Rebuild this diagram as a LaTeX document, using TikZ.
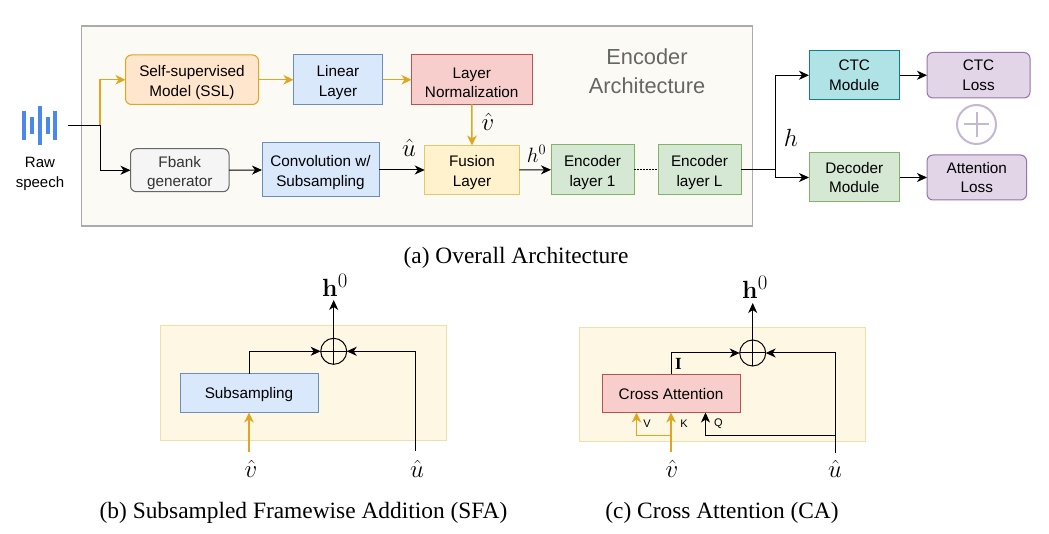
\documentclass[tikz,border=0pt]{standalone}
\usepackage[no-math]{fontspec}
\setmainfont{Liberation Sans}
\newfontfamily\capfont{Liberation Serif}
\usetikzlibrary{arrows.meta,calc}
\definecolor{gold}{HTML}{E0A620}
\def\bxh{36pt}
\tikzset{
  x=1pt,y=-1pt,
  every node/.style={inner sep=0pt,outer sep=0pt},
  bx/.style={draw,line width=1pt,align=center,font=\fontsize{15.3}{19.5}\selectfont,text=black,execute at begin node={\rule{0pt}{\bxh}}},
  single/.style={/utils/exec={\def\bxh{13.5pt}}},
  nolift/.style={/utils/exec={\def\bxh{0pt}}},
  bluebox/.style={bx,fill=bluef,draw=blues},
  orangebox/.style={bx,fill=orangef,draw=gold,rounded corners=6pt},
  redbox/.style={bx,fill=redf,draw=reds},
  yellowbox/.style={bx,fill=yellowf,draw=yellows},
  greenbox/.style={bx,fill=greenf,draw=greens},
  purplebox/.style={bx,fill=purplef,draw=purples,rounded corners=6pt},
  tealbox/.style={bx,fill=tealf,draw=teals},
  greybox/.style={bx,fill=greyf,draw=greys,rounded corners=6pt,text=greyt},
  panel/.style={draw=panels,fill=panelf,line width=1pt,minimum width=286pt,minimum height=114.5pt},
  conn/.style={draw=black,line width=1pt,-{Stealth[length=10pt,width=9pt,inset=3pt]}},
  goldconn/.style={draw=gold,line width=1.5pt,-{Stealth[length=10pt,width=9.5pt,inset=3pt,fill=gold]}},
  plain/.style={draw=black,line width=1pt},
  sumc/.style={circle,draw=black,line width=1pt,minimum size=26pt},
  mathlbl/.style={font=\fontsize{24.88}{28}\selectfont},
  mathsm/.style={font=\fontsize{20.74}{24}\selectfont},
  caplbl/.style={font=\capfont\fontsize{23.4}{26}\selectfont},
  smalllbl/.style={font=\fontsize{11}{12}\selectfont},
}
\definecolor{bluef}{HTML}{DAE8FC}\definecolor{blues}{HTML}{6C8EBF}
\definecolor{orangef}{HTML}{FFE6CC}
\definecolor{redf}{HTML}{F8CECC}\definecolor{reds}{HTML}{B85450}
\definecolor{yellowf}{HTML}{FFF2CC}\definecolor{yellows}{HTML}{E3C768}
\definecolor{greenf}{HTML}{D5E8D4}\definecolor{greens}{HTML}{82B366}
\definecolor{purplef}{HTML}{E1D5E7}\definecolor{purples}{HTML}{9673A6}
\definecolor{tealf}{HTML}{B0E3E6}\definecolor{teals}{HTML}{0E8088}
\definecolor{greyf}{HTML}{F5F5F5}\definecolor{greys}{HTML}{666666}\definecolor{greyt}{HTML}{333333}
\definecolor{panelf}{HTML}{FEF7E4}\definecolor{panels}{HTML}{F0DFA8}
\definecolor{outerf}{HTML}{FBFAF5}\definecolor{outers}{HTML}{ABABAB}
\definecolor{wave}{HTML}{4A88EE}\definecolor{plusc}{HTML}{C4B7D0}
\begin{document}
\begin{tikzpicture}
\useasboundingbox (0,0) rectangle (1049,534);
% outer frame
\node[draw=outers,fill=outerf,line width=1.2pt,minimum width=671pt,minimum height=200pt] (outer) at (417,126) {};
\node[font=\fontsize{21.8}{29}\selectfont,text=black!60,align=center] (enctitle) at (647,71) {Encoder\\Architecture};
% waveform
\foreach \xx/\yt/\yb in {24/111.5/140,32/117.5/134,40/106.5/145.5,47.7/117.5/134,55.4/111.5/140}
  \fill[wave] (\xx-2,\yt) rectangle (\xx+2,\yb);
\node[align=center,font=\fontsize{15}{20}\selectfont] (raw) at (40,174) {Raw\\speech};
\coordinate (rawout) at (68,126);
\coordinate (split) at (100,126);
% boxes
\node[orangebox,minimum width=133pt,minimum height=49.5pt] (ssl) at (192,79.75) {Self-supervised\\Model (SSL)};
\node[bluebox,minimum width=89pt,minimum height=49.5pt] (lin) at (338,79.75) {Linear\\Layer};
\node[redbox,minimum width=120.5pt,minimum height=49.5pt] (norm) at (471.75,79.75) {Layer\\Normalization};
\node[greybox,minimum width=98.5pt,minimum height=43pt] (fbank) at (179.75,170.25) {Fbank\\generator};
\node[bluebox,minimum width=117pt,minimum height=54pt] (conv) at (320.5,170) {Convolution w/\\Subsampling};
\node[yellowbox,minimum width=94.5pt,minimum height=49pt] (fusion) at (472,170) {Fusion\\Layer};
\node[greenbox,minimum width=83pt,minimum height=49.5pt] (enc1) at (592.5,169.75) {Encoder\\layer 1};
\node[greenbox,minimum width=83pt,minimum height=49.5pt] (encl) at (699.5,169.75) {Encoder\\layer L};
\node[tealbox,nolift,minimum width=90.5pt,minimum height=49.5pt] (ctc) at (854.25,75.25) {CTC\\Module};
\node[greenbox,nolift,minimum width=90.5pt,minimum height=49pt] (dec) at (854.25,177.5) {Decoder\\Module};
\node[purplebox,nolift,minimum width=103pt,minimum height=45.5pt] (ctcl) at (978.5,75.25) {CTC\\Loss};
\node[purplebox,nolift,minimum width=99.5pt,minimum height=45pt] (attl) at (976.75,177.5) {Attention\\Loss};
\node[circle,draw=plusc,line width=2pt,minimum size=39pt] (plus) at (976.5,124.5) {};
\draw[plusc,line width=2pt] ($(plus.north)+(0,7)$) -- ($(plus.south)+(0,-7)$);
\draw[plusc,line width=2pt] ($(plus.west)+(7,0)$) -- ($(plus.east)+(-7,0)$);
% connectors
\draw[goldconn] (split) |- (ssl.west);
\draw[goldconn] (ssl.east) -- (lin.west);
\draw[goldconn] (lin.east) -- (norm.west);
\draw[goldconn] (norm.south) -- (fusion.north);
\draw[conn] (rawout) -- (split) |- (fbank.west);
\draw[conn] (fbank.east) -- (conv.west);
\draw[conn] (conv.east) -- (fusion.west);
\draw[conn] (fusion.east) -- (enc1.west);
\draw[plain,line width=0.8pt,dash pattern=on 2pt off 1pt] (enc1.east) -- (encl.west);
\coordinate (hsplit) at (775,169.75);
\draw[plain] (encl.east) -- (hsplit);
\draw[conn] (hsplit) |- (ctc.west);
\draw[conn] (hsplit) |- (dec.west);
\draw[conn] (ctc.east) -- (ctcl.west);
\draw[conn] (dec.east) -- (attl.west);
% labels
\node[mathlbl] (uhat) at (409,148) {$\hat u$};
\node[mathlbl] (vhat) at (488,122) {$\hat v$};
\node[mathsm] (h0a) at (536.5,154) {$h^0$};
\node[mathlbl] (hlab) at (791,138) {$h$};
\node[caplbl] (capa) at (516,258) {(a) Overall Architecture};
% panel b
\node[panel] (pb) at (303.25,383) {};
\node[bluebox,single,minimum width=138pt,minimum height=39pt] (sub) at (249,393) {Subsampling};
\node[sumc] (sb) at (333.7,351.3) {};
\draw[plain] (sb.north) -- (sb.south);
\draw[plain] (sb.west) -- (sb.east);
\node[mathlbl] (hb) at (335,285) {$\mathbf{h}^0$};
\node[mathlbl] (vb) at (251,469) {$\hat v$};
\node[mathlbl] (ub) at (417,469) {$\hat u$};
\coordinate (vbs) at (249,452);
\coordinate (ubs) at (415.5,451);
\coordinate (hbe) at (333.7,300);
\draw[goldconn] (vbs) -- (sub.south);
\draw[conn] (sub.north) |- (sb.west);
\draw[conn] (ubs) |- (sb.east);
\draw[conn] (sb.north) -- (hbe);
\node[caplbl] (capb) at (303.5,513) {(b) Subsampled Framewise Addition (SFA)};
% panel c
\node[panel] (pc) at (722.5,384.5) {};
\node[redbox,single,minimum width=138pt,minimum height=38.5pt] (ca) at (671,393.25) {Cross Attention};
\node[sumc] (sc) at (752.7,353) {};
\draw[plain] (sc.north) -- (sc.south);
\draw[plain] (sc.west) -- (sc.east);
\node[mathlbl] (hc) at (755,287) {$\mathbf{h}^0$};
\node[mathlbl] (vc) at (672,469) {$\hat v$};
\node[mathlbl] (uc) at (835,469) {$\hat u$};
\coordinate (vcs) at (671,452);
\coordinate (ucs) at (835,453);
\coordinate (hce) at (752.7,303);
\coordinate (vbr) at (671,435.7);
\coordinate (ubr) at (835,435.7);
\coordinate (vin) at (636.5,412.5);
\coordinate (qin) at (705.5,412.5);
\draw[goldconn] (vcs) -- (ca.south);
\draw[goldconn] (vbr) -| (vin);
\draw[conn] (ubr) -| (qin);
\draw[conn] (ca.north) |- (sc.west);
\draw[conn] (ucs) |- (sc.east);
\draw[conn] (sc.north) -- (hce);
\node[font=\capfont\bfseries\fontsize{17}{18}\selectfont] (il) at (678.5,364) {I};
\node[smalllbl] (vl) at (647,424) {V};
\node[smalllbl] (kl) at (684,424) {K};
\node[smalllbl] (ql) at (718.5,424) {Q};
\node[caplbl] (capc) at (722,513) {(c) Cross Attention (CA)};
\end{tikzpicture}
\end{document}
